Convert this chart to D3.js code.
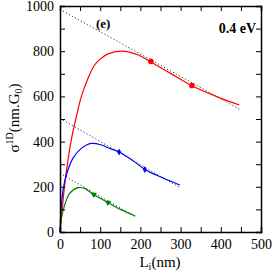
<!DOCTYPE html>
<html lang="en">
<head>
<meta charset="UTF-8">
<title>sigma 1D vs L</title>
<script src="https://d3js.org/d3.v7.min.js"></script>
<style>
body{margin:0;background:#fff;}
svg text{font-family:"Liberation Serif","Times New Roman",serif;fill:#000;}
</style>
</head>
<body>
<svg id="chart" width="273" height="273"></svg>
<script>
// curves: [L (nm), sigma]
var redCurve=[[0,0],[5,90],[11.6,208],[20,320],[28,407],[40.6,510],[53,599],[69.7,680],[86,739],[100,765],[119.4,788],[153,800],[195,783],[226,752],[274,703],[328,647],[390,599],[446,562]];
var blueCurve=[[0,0],[3.3,119],[8,190],[15.7,252],[32,326],[53,370],[78,392],[103,385],[119,373],[147,354],[180,318],[211,277],[255,240],[298,208]];
var greenCurve=[[0,0],[3.3,60],[11.6,119],[24,171],[45,196],[61,193],[84,166],[111,138],[150,100],[187,71]];
var redFit=[[0,985],[450,540]];
var blueFit=[[0,503],[300,195]];
var greenFit=[[0,260],[187,68]];
var redPts=[[226,755],[328,648]];
var bluePts=[[147,354],[211,277]];
var greenPts=[[84,166],[119,131]];
var xTicks=d3.range(0,501,50);
var yTicks=d3.range(0,1001,100);

var W=273,H=273,m={l:60,r:12,t:6,b:41};
var svg=d3.select("#chart");
var x=d3.scaleLinear().domain([0,500]).range([m.l,W-m.r]);
var y=d3.scaleLinear().domain([0,1000]).range([H-m.b,m.t]);

var line=d3.line().x(function(d){return x(d[0]);}).y(function(d){return y(d[1]);}).curve(d3.curveCatmullRom.alpha(0.5));
var straight=d3.line().x(function(d){return x(d[0]);}).y(function(d){return y(d[1]);});

var g=svg.append("g");
[redFit,blueFit,greenFit].forEach(function(f){
  g.append("path").attr("d",straight(f)).attr("fill","none").attr("stroke","#333").attr("stroke-width",1).attr("stroke-dasharray","1.2,2.2");
});
[[redCurve,"#ff0000"],[blueCurve,"#0000ff"],[greenCurve,"#008000"]].forEach(function(c){
  g.append("path").attr("d",line(c[0])).attr("fill","none").attr("stroke",c[1]).attr("stroke-width",1.2);
});
g.selectAll(".rp").data(redPts).enter().append("circle")
  .attr("cx",function(d){return x(d[0]);}).attr("cy",function(d){return y(d[1]);}).attr("r",2.8).attr("fill","#ff0000");
g.selectAll(".bp").data(bluePts).enter().append("path")
  .attr("transform",function(d){return "translate("+x(d[0])+","+y(d[1])+")";})
  .attr("d",d3.symbol().type(d3.symbolDiamond).size(14)).attr("fill","#0000ff");
g.selectAll(".gp").data(greenPts).enter().append("path")
  .attr("transform",function(d){return "translate("+x(d[0])+","+y(d[1])+") rotate(180)";})
  .attr("d",d3.symbol().type(d3.symbolTriangle).size(16)).attr("fill","#008000");

// axes, ticks pointing inward
svg.append("g").attr("transform","translate(0,"+(H-m.b)+")")
  .call(d3.axisBottom(x).tickValues(xTicks).tickSize(-5).tickPadding(7).tickFormat(function(d){return d%100===0?d:"";}));
svg.append("g").attr("transform","translate(0,"+m.t+")")
  .call(d3.axisTop(x).tickValues(xTicks).tickSize(-5).tickFormat(""));
svg.append("g").attr("transform","translate("+m.l+",0)")
  .call(d3.axisLeft(y).tickValues(yTicks).tickSize(-5).tickPadding(6).tickFormat(function(d){return d%200===0?d:"";}));
svg.append("g").attr("transform","translate("+(W-m.r)+",0)")
  .call(d3.axisRight(y).tickValues(yTicks).tickSize(-5).tickFormat(""));
svg.selectAll("g").attr("font-family","Liberation Serif, serif").attr("font-size",14);
svg.selectAll(".domain").attr("stroke","#000").attr("stroke-width",1.5);
svg.selectAll(".tick line").attr("stroke","#000").attr("stroke-width",1);

// labels
var xl=svg.append("text").attr("x",160).attr("y",267).attr("text-anchor","middle").style("font-size","15px");
xl.append("tspan").text("L");
xl.append("tspan").attr("dy",3).style("font-size","10px").text("i");
xl.append("tspan").attr("dy",-3).text("(nm)");

var yl=svg.append("text").attr("transform","translate(19,118) rotate(-90)").attr("text-anchor","middle").style("font-size","15px");
yl.append("tspan").text("σ");
yl.append("tspan").attr("dy",-6).style("font-size","10px").text("1D");
yl.append("tspan").attr("dy",6).text("(nm.G");
yl.append("tspan").attr("dy",3).style("font-size","10px").text("0");
yl.append("tspan").attr("dy",-3).text(")");

svg.append("text").attr("x",96).attr("y",28).style("font-size","13px").style("font-weight","bold").text("(e)");
svg.append("text").attr("x",256).attr("y",33).attr("text-anchor","end").style("font-size","14px").style("font-weight","bold").text("0.4 eV");
</script>
</body>
</html>
